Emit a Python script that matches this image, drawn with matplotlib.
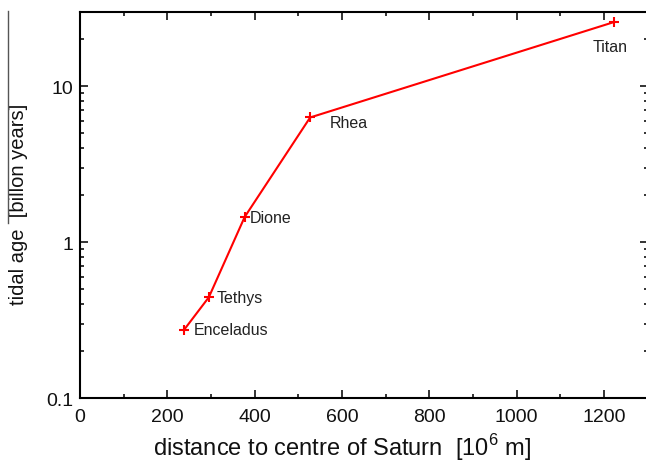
import matplotlib
matplotlib.use("Agg")
import matplotlib.pyplot as plt
from matplotlib.ticker import MultipleLocator, LogLocator, NullFormatter, FixedLocator, FixedFormatter
from matplotlib.lines import Line2D

plt.rcParams['font.family'] = ['Liberation Sans', 'DejaVu Sans']
plt.rcParams['mathtext.fontset'] = 'custom'
plt.rcParams['mathtext.rm'] = 'Liberation Sans'

# moons of Saturn: distance [10^6 m] and tidal age [billion years]
moons = ["Enceladus", "Tethys", "Dione", "Rhea", "Titan"]
distance = [238, 295, 377, 527, 1222]
tidal_age = [0.274, 0.444, 1.45, 6.3, 25.7]

# label offsets in pixels (dx, dy)
offsets = [(10, 0), (8, 0), (5, 0), (20, -5), (-4, -24)]
aligns = ["left", "left", "left", "left", "center"]

fig = plt.figure(figsize=(6.46, 4.64), dpi=100)
ax = fig.add_axes([80 / 646, 1 - 399.3 / 464, 567.7 / 646, 386.6 / 464])

ax.plot(distance, tidal_age, color="#ff0000", lw=1.5, marker="+",
        markersize=7, markeredgewidth=1.5)

for name, x, y, (dx, dy), ha in zip(moons, distance, tidal_age, offsets, aligns):
    ax.annotate(name, (x, y), xytext=(dx, dy), textcoords="offset pixels",
                ha=ha, va="center", fontsize=11.5, color="#222222")

ax.set_yscale("log")
ax.set_xlim(0, 1300)
ax.set_ylim(0.1, 30)

ax.xaxis.set_major_locator(FixedLocator([0, 200, 400, 600, 800, 1000, 1200]))
ax.xaxis.set_minor_locator(MultipleLocator(100))
ax.yaxis.set_major_locator(FixedLocator([0.1, 1, 10]))
ax.yaxis.set_major_formatter(FixedFormatter(["0.1", "1", "10"]))
ax.yaxis.set_minor_locator(LogLocator(base=10, subs=range(2, 10)))
ax.yaxis.set_minor_formatter(NullFormatter())

ax.tick_params(which="both", direction="in", top=True, right=True,
               labelsize=14, colors="#111111", width=1.2)
ax.tick_params(which="major", length=6)
ax.tick_params(which="minor", length=3)
ax.tick_params(axis="x", which="major", pad=7)
ax.tick_params(axis="y", which="major", pad=5)

for s in ax.spines.values():
    s.set_linewidth(1.5)

ax.set_xlabel(r"distance to centre of Saturn  [10$^6$ m]", fontsize=17,
              color="#111111")
ax.xaxis.set_label_coords(0.461, -0.086)
ax.set_ylabel("tidal age  [billon years]", fontsize=14.5, color="#111111")
ax.yaxis.set_label_coords(-0.092, 0.505)

# thin line at left edge from the source scan
fig.add_artist(Line2D([8 / 646, 8 / 646], [1 - 12 / 464, 1 - 224 / 464],
                      color="#555555", lw=1, transform=fig.transFigure))

fig.savefig("out.png", dpi=100)
